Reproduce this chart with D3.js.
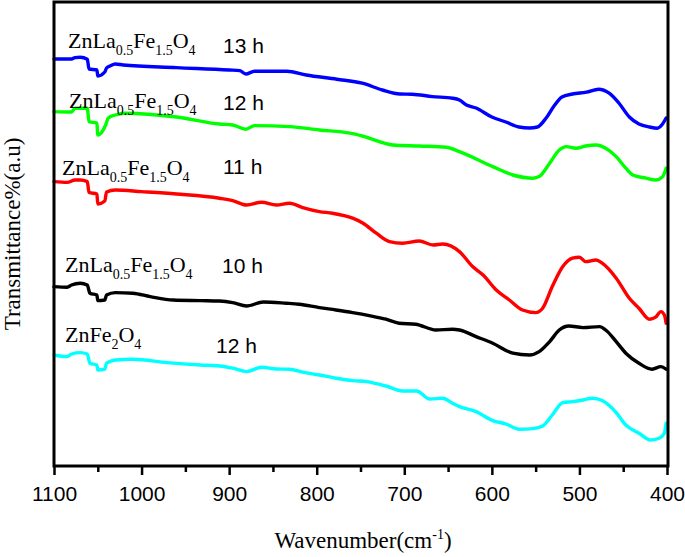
<!DOCTYPE html>
<html><head><meta charset="utf-8">
<script src="https://cdn.jsdelivr.net/npm/d3@7"></script>
<style>body{margin:0;background:#fff}svg{display:block}</style>
</head><body>
<script>
// ---- data (wavenumber cm-1, transmittance a.u.) ----
const xTicks = [1100, 1000, 900, 800, 700, 600, 500, 400];
const xMinorTicks = [1050, 950, 850, 750, 650, 550, 450];

const s13h = [[1100,203.5],[1080,203.5],[1076,204.2],[1070,204.4],[1062,203.4],[1060,198.5],[1051,198],[1050,195],[1042,197],[1040,199],[1036,200],[1030,201],[1021,200.5],[960,199.2],[900,198],[888,197.7],[881,196],[871,197.4],[834,197.4],[812,195.5],[777,193.4],[748,191.4],[725,188],[705,186],[691,185.9],[668,184.7],[645,183.9],[637,183],[629,180.5],[618,179],[600,174.5],[584,172],[569,169.5],[557,169],[548,169.5],[538,174],[529,180],[520,184.5],[508,186],[492,186.9],[478,188.4],[466,186.4],[455,181.5],[443,174.5],[432,171],[420,169.5],[411,168.9],[406,170.5],[401,174]];

const s12h = [[1100,177.2],[1080,177],[1076,178.9],[1062,178.9],[1060,172.2],[1051,171.4],[1050,165.5],[1041,170.5],[1038,174],[1030,175.5],[1019,176.4],[960,174.5],[911,171],[896,170.5],[881,168.4],[871,170.2],[831,169.7],[797,168],[762,166.4],[748,165],[713,160.5],[683,160],[652,159.4],[637,157.2],[599,149.7],[576,145.5],[553,143.9],[546,144.7],[534,151.4],[523,158],[515,159.7],[504,158.9],[493,160],[481,160.5],[470,158.9],[458,154.7],[447,148.9],[439,145.5],[424,143.9],[413,143],[405,144.7],[401,148.9]];

const s11h = [[1100,142.2],[1085,141.8],[1076,143],[1070,143],[1062,142.2],[1060,136.8],[1051,136],[1050,131],[1042,132.5],[1040,137],[1030,138],[1000,137.2],[960,136],[911,133.9],[896,132.7],[880,130.5],[863,131.9],[846,130.5],[831,131.4],[816,129.2],[797,127.2],[782,126.4],[759,123.9],[747,121.4],[732,116.4],[717,112.2],[702,111.4],[683,112.5],[667,110.5],[656,111],[637,107.2],[622,99.7],[610,95.5],[595,88],[580,83],[565,78],[550,76.7],[542,78.9],[531,89.7],[519,99.7],[508,103.9],[500,104.4],[493,102.2],[481,103],[474,101.4],[458,93.9],[443,83.9],[432,78.9],[420,73.4],[413,74.4],[407,77.2],[403,75.5],[401,71.4]];

const s10h = [[1100,89.7],[1085,89.4],[1080,90.5],[1070,91.4],[1062,90.5],[1059,86.4],[1051,85.5],[1050,82.7],[1042,83],[1040,85.5],[1030,86.7],[1010,86.4],[990,84.7],[964,83],[933,82.7],[911,82.5],[896,81.7],[880,80],[861,82],[835,81.4],[820,80.9],[797,79.2],[778,78],[759,76.7],[740,75.2],[721,73.4],[706,71.4],[687,70.9],[664,68],[645,68.4],[637,68],[618,64.7],[599,61.4],[576,56.4],[557,55.5],[546,57.2],[534,62.2],[523,68],[512,70],[496,69.2],[477,69.7],[470,68],[458,62.2],[447,56.4],[432,51.4],[417,48.4],[407,49.7],[401,48.4]];

const sZnFe = [[1100,55.5],[1085,54.7],[1080,56],[1070,56.7],[1062,56],[1059,51.4],[1051,50.5],[1050,48],[1042,48.4],[1040,51.4],[1030,53],[1010,53.4],[971,51.7],[933,50.5],[911,50],[896,48.9],[880,47.2],[863,49.4],[846,48.5],[831,48.4],[816,46.9],[797,45.5],[778,43.9],[759,42.7],[743,42.2],[721,40],[702,37.5],[686,37.5],[671,33.5],[656,33.9],[645,31.4],[637,29.7],[618,27.2],[599,22.7],[584,21],[569,18.4],[553,18.7],[542,20],[531,25.5],[519,31.7],[508,32.2],[496,33],[485,33.9],[474,32.7],[458,26.7],[447,20.5],[432,16.4],[419,13],[409,13.9],[403,16.4],[401,21.4]];

const seriesData = [s13h, s12h, s11h, s10h, sZnFe];
const seriesColors = ["#0000ff", "#00ff00", "#ff0000", "#000000", "#00ffff"];
const hourLabels = ["13 h", "12 h", "11 h", "10 h", "12 h"];
// formula parts: [text, isSubscript]
const formulaLa = [["ZnLa",0],["0.5",1],["Fe",0],["1.5",1],["O",0],["4",1]];
const formulaFe = [["ZnFe",0],["2",1],["O",0],["4",1]];
const formulas = [formulaLa, formulaLa, formulaLa, formulaLa, formulaFe];

// ---- layout ----
const W = 685, H = 557;
const L = 54, R = 668, T = 2, B = 466;
const svg = d3.select("body").append("svg").attr("width", W).attr("height", H);

const x = d3.scaleLinear().domain([1100, 400]).range([L, 667]);
const y = d3.scaleLinear().domain([0, 232]).range([B, T]);

// curves
const line = d3.line().x(d => x(d[0])).y(d => y(d[1])).curve(d3.curveMonotoneX);
seriesData.forEach((s, i) => {
  svg.append("path").datum(s).attr("d", line)
    .attr("fill", "none").attr("stroke", seriesColors[i])
    .attr("stroke-width", 3.4).attr("stroke-linejoin", "round").attr("stroke-linecap", "round");
});

// frame
svg.append("rect").attr("x", L).attr("y", T).attr("width", R - L).attr("height", B - T)
  .attr("fill", "none").attr("stroke", "#000").attr("stroke-width", 3);

// x axis
const ax = svg.append("g").attr("transform", `translate(0,${B})`)
  .call(d3.axisBottom(x).tickValues(xTicks).tickSize(9).tickPadding(11).tickFormat(d3.format("d")));
ax.select(".domain").remove();
ax.selectAll(".tick line").attr("stroke-width", 2.5);
ax.selectAll("text").attr("font-family", "Liberation Sans, Arial, sans-serif").attr("font-size", 21).attr("fill", "#000");
const axm = svg.append("g").attr("transform", `translate(0,${B})`)
  .call(d3.axisBottom(x).tickValues(xMinorTicks).tickSize(6).tickFormat(""));
axm.select(".domain").remove();
axm.selectAll(".tick line").attr("stroke-width", 2.5);

// axis titles
const xt = svg.append("text").attr("x", 363).attr("y", 548).attr("text-anchor", "middle")
  .attr("font-family", "Liberation Serif, Times New Roman, serif").attr("font-size", 23);
xt.append("tspan").text("Wavenumber(cm");
xt.append("tspan").attr("dy", -9).attr("font-size", 14).text("-1");
xt.append("tspan").attr("dy", 9).text(")");

svg.append("text").attr("transform", `translate(20,${(T + B) / 2}) rotate(-90)`)
  .attr("text-anchor", "middle")
  .attr("font-family", "Liberation Serif, Times New Roman, serif").attr("font-size", 23)
  .text("Transmittance%(a.u)");

// series labels
const formulaPos = [[68, 48], [69, 108], [62, 175], [65, 272], [65, 342]];
const hourPos = [[223, 53], [223, 110], [223, 174], [222, 273], [216, 353]];
formulas.forEach((f, i) => {
  const t = svg.append("text").attr("x", formulaPos[i][0]).attr("y", formulaPos[i][1])
    .attr("font-family", "Liberation Serif, Times New Roman, serif").attr("font-size", 22);
  let sub = false;
  f.forEach(([txt, s]) => {
    const ts = t.append("tspan").text(txt).attr("font-size", s ? 14 : 22);
    if (s && !sub) ts.attr("dy", 7);
    if (!s && sub) ts.attr("dy", -7);
    sub = !!s;
  });
  svg.append("text").attr("x", hourPos[i][0]).attr("y", hourPos[i][1])
    .attr("font-family", "Liberation Sans, Arial, sans-serif").attr("font-size", 21)
    .text(hourLabels[i]);
});
</script>
</body></html>
